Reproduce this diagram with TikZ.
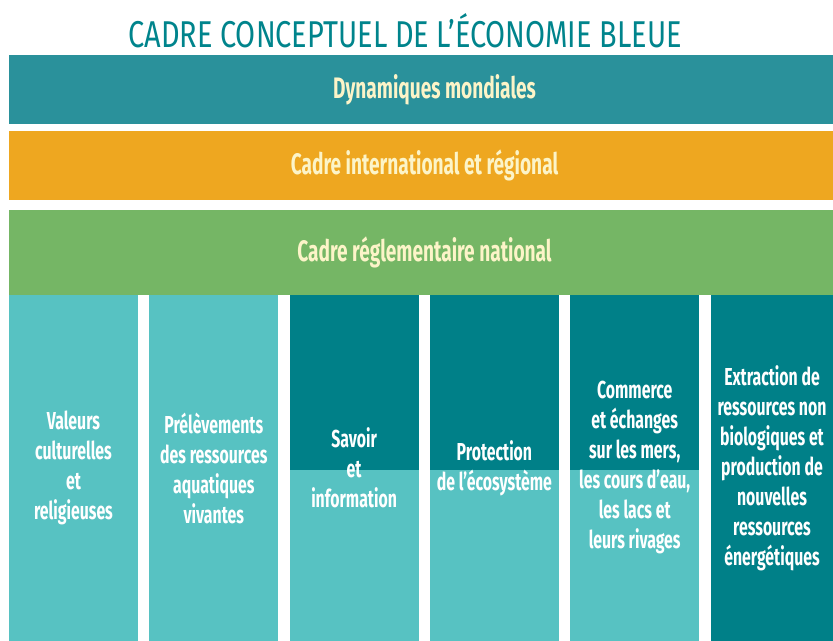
\documentclass[tikz,border=0pt]{standalone}
\usepackage{fontspec}
\setmainfont{Fira Sans}[FakeStretch=0.645]
\newfontfamily\titlefont{Fira Sans}[FakeStretch=0.775]
\usetikzlibrary{positioning}

\definecolor{tealband}{RGB}{42,145,155}
\definecolor{orangeband}{RGB}{238,167,32}
\definecolor{greenband}{RGB}{117,182,101}
\definecolor{lightteal}{RGB}{87,194,194}
\definecolor{darkteal}{RGB}{0,128,136}
\definecolor{titleteal}{RGB}{0,132,140}
\definecolor{cream}{RGB}{252,244,200}

\tikzset{
  band/.style = {draw=none},
  bandtext/.style = {text=cream, font=\bfseries\fontsize{22.2}{24}\selectfont},
  coltext/.style = {text=white, align=center, font=\bfseries\fontsize{18.4}{22.5}\selectfont},
}

\begin{document}
\begin{tikzpicture}[x=0.75pt, y=-0.75pt]
    \useasboundingbox (0,0) rectangle (833,641);
    \clip (0,0) rectangle (833,641);
    \def\p{140.3}\def\w{129}
    \node[titleteal, font=\titlefont\fontsize{28}{30}\selectfont] (title) at (405,31) {CADRE CONCEPTUEL DE L’ÉCONOMIE BLEUE};
    % the three frames
    \draw[band, fill=tealband] (9,55) rectangle (840,124) node[midway, bandtext, xshift=7.5pt] (mondial) {Dynamiques mondiales};
    \draw[band, fill=orangeband] (9,131) rectangle (840,200) node[midway, bandtext] (regional) {Cadre international et régional};
    \draw[band, fill=greenband] (9,210) rectangle (840,295) node[midway, bandtext] (national) {Cadre réglementaire national};
    % pillars
    \fill[lightteal] (9,295) rectangle (9+\w,641);
    \fill[lightteal] (9+\p,295) rectangle (9+\p+\w,641);
    \fill[lightteal] (9+2*\p,295) rectangle (9+2*\p+\w,641);
    \fill[darkteal] (9+2*\p,295) rectangle (9+2*\p+\w,470);
    \fill[lightteal] (9+3*\p,295) rectangle (9+3*\p+\w,641);
    \fill[darkteal] (9+3*\p,295) rectangle (9+3*\p+\w,470);
    \fill[lightteal] (9+4*\p,295) rectangle (9+4*\p+\w,641);
    \fill[darkteal] (9+4*\p,295) rectangle (9+4*\p+\w,470);
    \fill[darkteal] (9+5*\p,295) rectangle (9+5*\p+\w,641);
    \node[coltext] (valeurs) at (9+0.5*\w,468) {Valeurs\\culturelles\\et\\religieuses};
    \node[coltext] (prelevements) at (9+\p+0.5*\w,468) {Prélèvements\\des ressources\\aquatiques\\vivantes};
    \node[coltext] (savoir) at (9+2*\p+0.5*\w,468) {Savoir\\et\\information};
    \node[coltext] (protection) at (9+3*\p+0.5*\w,468) {Protection\\de l’écosystème};
    \node[coltext] (commerce) at (9+4*\p+0.5*\w,468) {Commerce\\et échanges\\sur les mers,\\les cours d’eau,\\les lacs et\\leurs rivages};
    \node[coltext] (extraction) at (9+5*\p+0.5*\w-3,468) {Extraction de\\ressources non\\biologiques et\\production de\\nouvelles\\ressources\\énergétiques};
\end{tikzpicture}
\end{document}
